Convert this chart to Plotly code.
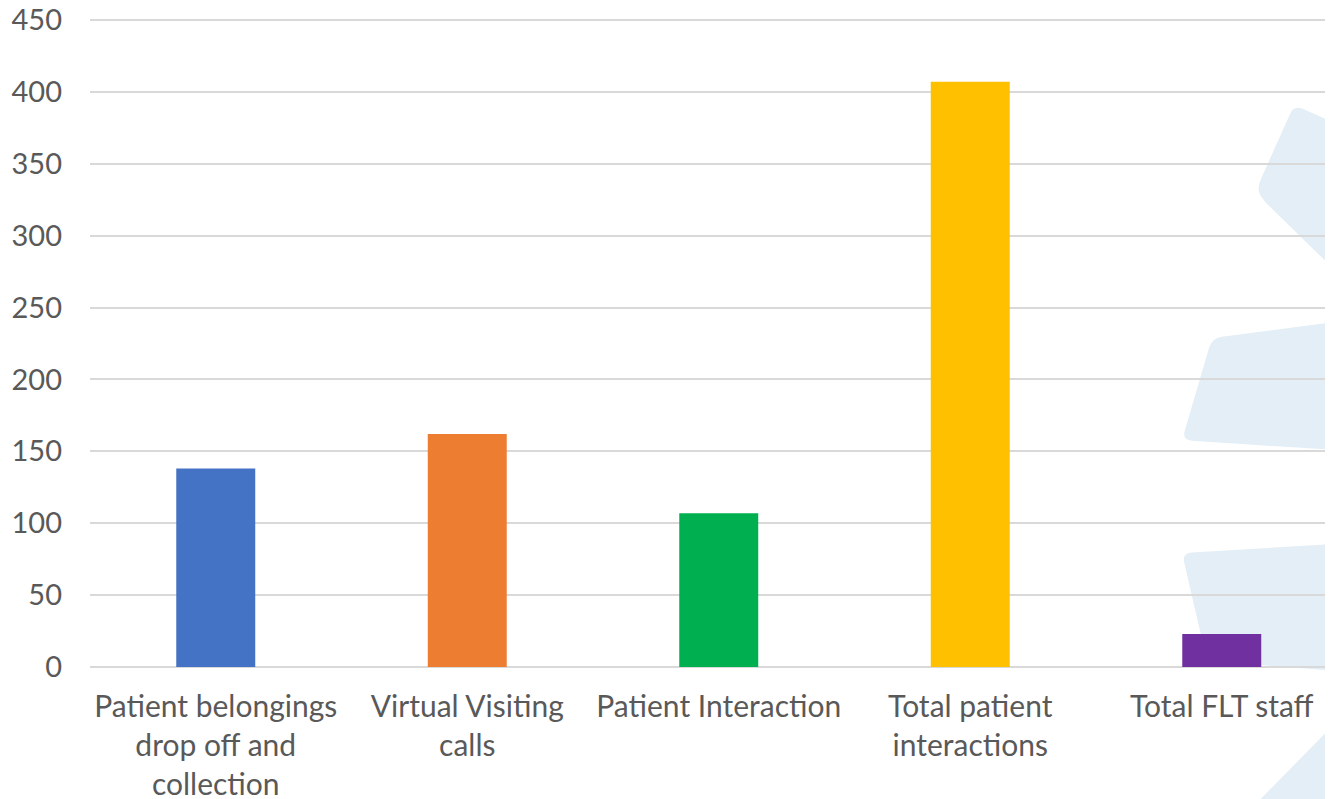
import plotly.graph_objects as go

categories = [
    "Patient belongings<br>drop off and<br>collection",
    "Virtual Visiting<br>calls",
    "Patient Interaction",
    "Total patient<br>interactions",
    "Total FLT staff",
]
values = [138, 162, 107, 407, 23]
colors = ["#4472C4", "#ED7D31", "#00B050", "#FFC000", "#7030A0"]
y_ticks = [0, 50, 100, 150, 200, 250, 300, 350, 400, 450]

OFF = 8  # default page body margin
W, H = 1333 - OFF, 799 - OFF
ML, MR, MT, MB = 82, 0, 8, 132
PW, PH = W - ML - MR, H - MT - MB
Y_TOP = 450 * PH / (PH - 4)


def to_paper(pt):
    # pt in page pixel coordinates
    x, y = pt[0] - OFF, pt[1] - OFF
    return (x - ML) / PW, (H - MB - y) / PH


def rounded_path(verts, r=8):
    n = len(verts)
    segs = []
    for i in range(n):
        p0 = verts[i - 1]
        p1 = verts[i]
        p2 = verts[(i + 1) % n]

        def towards(a, b, d):
            dx, dy = b[0] - a[0], b[1] - a[1]
            L = (dx * dx + dy * dy) ** 0.5
            d = min(d, L / 2)
            return a[0] + dx / L * d, a[1] + dy / L * d
        a = towards(p1, p0, r)
        b = towards(p1, p2, r)
        segs.append((a, p1, b))
    parts = []
    for i, (a, c, b) in enumerate(segs):
        pa, pc, pb = to_paper(a), to_paper(c), to_paper(b)
        parts.append(("M" if i == 0 else "L") + f" {pa[0]:.5f},{pa[1]:.5f}")
        parts.append(f"Q {pc[0]:.5f},{pc[1]:.5f} {pb[0]:.5f},{pb[1]:.5f}")
    parts.append("Z")
    return " ".join(parts)


deco = [
    [(1294, 105), (1350, 130), (1350, 285), (1262, 199), (1257, 188)],
    [(1212, 338), (1350, 320), (1350, 451), (1182, 440)],
    [(1182, 553), (1350, 543), (1350, 672), (1207, 661)],
    [(1350, 708), (1350, 815), (1245, 815)],
]

fig = go.Figure()
fig.add_trace(go.Bar(
    x=list(range(len(values))),
    y=values,
    marker=dict(color=colors, line=dict(width=0)),
    width=0.314,
    hoverinfo="y",
))

shapes = []
for v in deco:
    shapes.append(dict(
        type="path", xref="paper", yref="paper",
        path=rounded_path(v, 10),
        fillcolor="#E3EEF6", line=dict(width=0), layer="below",
    ))

cat_px = 251.5
fig.update_layout(
    width=W, height=H,
    margin=dict(l=ML, r=MR, t=MT, b=MB, pad=0),
    paper_bgcolor="white",
    plot_bgcolor="rgba(0,0,0,0)",
    showlegend=False,
    font=dict(family="Lato", size=30, color="#595959"),
    shapes=shapes,
    xaxis=dict(
        tickmode="array",
        tickvals=list(range(len(categories))),
        ticktext=categories,
        range=[-0.5, -0.5 + PW / cat_px],
        automargin=False,
        ticklabeloverflow="allow",
        showgrid=False,
        zeroline=False,
        showline=False,
        ticks="",
        tickangle=0,
        ticklabelstandoff=19,
        tickfont=dict(family="Lato", size=30, color="#595959"),
    ),
    yaxis=dict(
        range=[0, Y_TOP],
        automargin=False,
        ticklabeloverflow="allow",
        tickmode="array",
        tickvals=y_ticks,
        ticktext=[str(v) for v in y_ticks],
        showgrid=True,
        gridcolor="#D9D9D9",
        gridwidth=1.5,
        zeroline=True,
        zerolinecolor="#D9D9D9",
        zerolinewidth=1.5,
        showline=False,
        ticks="",
        ticklabelstandoff=27,
        tickfont=dict(family="Lato", size=29, color="#595959"),
    ),
)

fig.write_html("out.html")
